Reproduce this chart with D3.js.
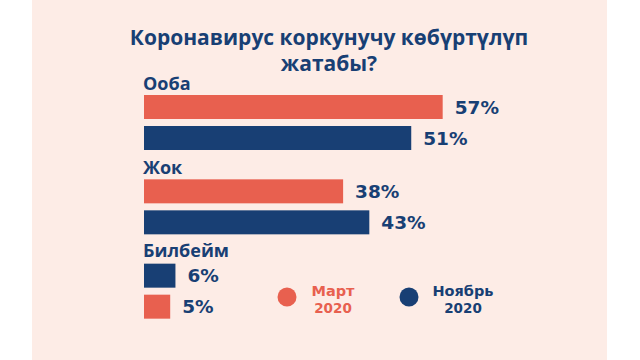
<!DOCTYPE html>
<html>
<head>
<meta charset="utf-8">
<script src="https://cdn.jsdelivr.net/npm/d3@7"></script>
<style>
  body { margin: 0; background: #fff; }
  svg { display: block; }
</style>
</head>
<body>
<div id="chart"></div>
<script>
const categories = ['Ооба', 'Жок', 'Билбейм'];
const march = [57, 38, 5];
const november = [51, 43, 6];
// order of the two bars inside each group (Билбейм is drawn the other way round)
const barOrder = [['mar', 'nov'], ['mar', 'nov'], ['nov', 'mar']];
const titleLines = ['Коронавирус коркунучу көбүртүлүп', 'жатабы?'];
const legendItems = [
  { key: 'mar', label: 'Март', year: '2020' },
  { key: 'nov', label: 'Ноябрь', year: '2020' }
];

const colors = { mar: '#e8604f', nov: '#183f74' };
const navy = '#183f74';
const width = 640, height = 360;

const svg = d3.select('#chart').append('svg')
    .attr('width', width)
    .attr('height', height);

svg.append('rect')
    .attr('x', 32).attr('y', 0)
    .attr('width', 575).attr('height', height)
    .attr('fill', '#fdece6');

svg.append('text')
    .attr('x', 329)
    .attr('y', 45)
    .attr('text-anchor', 'middle')
    .attr('fill', navy)
    .style('font-family', '"Open Sans", sans-serif')
    .style('font-weight', 700)
    .style('font-size', '21px')
    .selectAll('tspan').data(titleLines)
    .enter().append('tspan')
    .attr('x', 329)
    .attr('dy', (d, i) => i ? 26 : 0)
    .text(d => d);

const xScale = d3.scaleLinear().domain([0, 100]).range([144, 668]);
const yScale = d3.scaleBand().domain(categories).range([74, 327]);
const inner = d3.scaleBand().domain([0, 1]).range([21, 76]).paddingInner(0.226);

const rows = categories.map((c, i) => ({
  cat: c,
  bars: barOrder[i].map((k, j) => ({
    key: k, pos: j, value: k === 'mar' ? march[i] : november[i]
  }))
}));

const groups = svg.selectAll('g.group').data(rows)
    .enter().append('g')
    .attr('class', 'group')
    .attr('transform', d => `translate(0,${yScale(d.cat)})`);

groups.append('text')
    .attr('x', xScale(0) - 1)
    .attr('y', (d, i) => i === 2 ? 14 : 16)
    .attr('fill', navy)
    .style('font-family', '"Open Sans", sans-serif')
    .style('font-weight', 700)
    .style('font-size', '18px')
    .text(d => d.cat);

const bars = groups.selectAll('g.bar').data(d => d.bars)
    .enter().append('g')
    .attr('class', 'bar');

bars.append('rect')
    .attr('x', xScale(0))
    .attr('y', d => inner(d.pos))
    .attr('width', d => xScale(d.value) - xScale(0))
    .attr('height', inner.bandwidth())
    .attr('fill', d => colors[d.key]);

bars.append('text')
    .attr('x', d => xScale(d.value) + 12)
    .attr('y', d => inner(d.pos) + inner.bandwidth() / 2)
    .attr('dy', '0.36em')
    .attr('fill', navy)
    .style('font-family', '"DejaVu Sans", sans-serif')
    .style('font-weight', 700)
    .style('font-size', '18.5px')
    .text(d => d.value + '%');

const legendX = d3.scalePoint().domain(legendItems.map(d => d.key)).range([287, 409]);

const legend = svg.selectAll('g.legend').data(legendItems)
    .enter().append('g')
    .attr('class', 'legend')
    .attr('transform', d => `translate(${legendX(d.key)},297)`);

legend.append('circle')
    .attr('r', 9.5)
    .attr('fill', d => colors[d.key]);

const lt = legend.append('text')
    .attr('text-anchor', 'middle')
    .attr('fill', d => colors[d.key])
    .style('font-family', '"DejaVu Sans", sans-serif')
    .style('font-weight', 700);

lt.append('tspan')
    .attr('x', d => d.key === 'mar' ? 46 : 54)
    .attr('y', -1)
    .style('font-size', '14.5px')
    .text(d => d.label);

lt.append('tspan')
    .attr('x', d => d.key === 'mar' ? 46 : 54)
    .attr('y', 16)
    .style('font-size', '13.5px')
    .text(d => d.year);
</script>
</body>
</html>
